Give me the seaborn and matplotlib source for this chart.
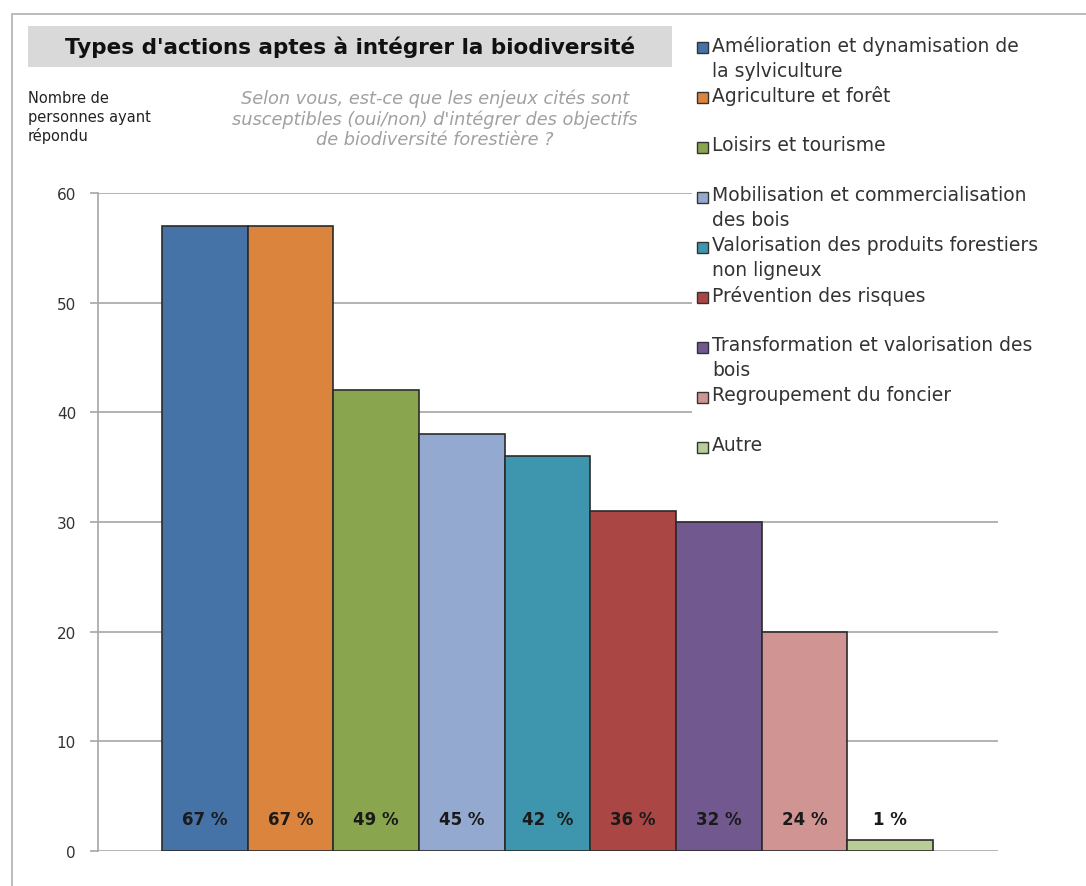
import pandas as pd
import matplotlib.pyplot as plt
import seaborn as sns
from matplotlib.patches import Rectangle

categories = [
    "Amélioration et dynamisation de\nla sylviculture",
    "Agriculture et forêt",
    "Loisirs et tourisme",
    "Mobilisation et commercialisation\ndes bois",
    "Valorisation des produits forestiers\nnon ligneux",
    "Prévention des risques",
    "Transformation et valorisation des\nbois",
    "Regroupement du foncier",
    "Autre",
]
counts = [57, 57, 42, 38, 36, 31, 30, 20, 1]
pct_labels = ["67 %", "67 %", "49 %", "45 %", "42  %", "36 %", "32 %", "24 %", "1 %"]
colors = ["#4572A7", "#DB843D", "#89A54E", "#93A9CF", "#3D96AE",
          "#AA4643", "#71588F", "#D09493", "#B9CD96"]
yticks = [0, 10, 20, 30, 40, 50, 60]

df = pd.DataFrame({"cat": categories, "n": counts})

sns.set_style("white")
plt.rcParams["font.family"] = ["DejaVu Sans"]

W, H = 1086, 887
fig = plt.figure(figsize=(W / 100, H / 100), dpi=100)
ax = fig.add_axes([98 / W, 35 / H, 900 / W, 658 / H])

sns.barplot(data=df, x="cat", y="n", hue="cat", palette=colors, width=1.0,
            dodge=False, legend=False, edgecolor="#2b2b2b", linewidth=1.2,
            saturation=1, ax=ax, zorder=3)

ax.set_xlim(-1.247, 9.259)
ax.set_ylim(0, 60)
ax.set_yticks(yticks)
ax.set_xticks([])
ax.set_xlabel("")
ax.set_ylabel("")
ax.grid(axis="y", color="#a6a6a6", linewidth=1.2, zorder=0)
for s in ["top", "right", "bottom"]:
    ax.spines[s].set_visible(False)
ax.spines["left"].set_color("#a6a6a6")
ax.spines["left"].set_linewidth(1.2)
ax.tick_params(axis="y", length=5.8, color="#a6a6a6", width=1.2, labelsize=11,
               labelcolor="#333333", pad=10, left=True)

for i, lab in enumerate(pct_labels):
    ax.text(i, 2.9, lab, ha="center", va="center", fontsize=12,
            fontweight="bold", color="#1a1a1a", zorder=4)

# outer frame
fig.patches.append(Rectangle((12 / W, -0.1), 1.2, (H - 15) / H + 0.1,
                             transform=fig.transFigure, fill=False,
                             edgecolor="#b0b0b0", linewidth=1.2))

# title box
fig.patches.append(Rectangle((28 / W, 1 - 68 / H), 644 / W, 41 / H,
                             transform=fig.transFigure, facecolor="#d9d9d9",
                             edgecolor="none"))
fig.text(350 / W, 1 - 47 / H, "Types d'actions aptes à intégrer la biodiversité",
         ha="center", va="center", fontsize=15.5, fontweight="bold", color="#111111")

fig.text(28 / W, 1 - 91 / H, "Nombre de\npersonnes ayant\nrépondu", ha="left",
         va="top", fontsize=10.5, color="#222222", linespacing=1.3)
fig.text(435 / W, 1 - 89 / H,
         "Selon vous, est-ce que les enjeux cités sont\n"
         "susceptibles (oui/non) d'intégrer des objectifs\n"
         "de biodiversité forestière ?",
         ha="center", va="top", fontsize=12.8, style="italic", color="#a0a0a0",
         linespacing=1.18)

# legend (white background hides the gridlines behind it)
fig.patches.append(Rectangle((692 / W, 1 - 465 / H), 388 / W, 430 / H,
                             transform=fig.transFigure, facecolor="white",
                             edgecolor="none", zorder=1))
for i, (lab, c) in enumerate(zip(categories, colors)):
    y = 48 + 50 * i
    fig.patches.append(Rectangle((697 / W, 1 - (y + 6) / H), 11 / W, 11 / H,
                                 transform=fig.transFigure, facecolor=c,
                                 edgecolor="#333333", linewidth=1, zorder=2))
    fig.text(712 / W, 1 - (y - 12) / H, lab, ha="left", va="top",
             fontsize=13.5, color="#333333", linespacing=1.4)

fig.savefig("out.png", dpi=100)
